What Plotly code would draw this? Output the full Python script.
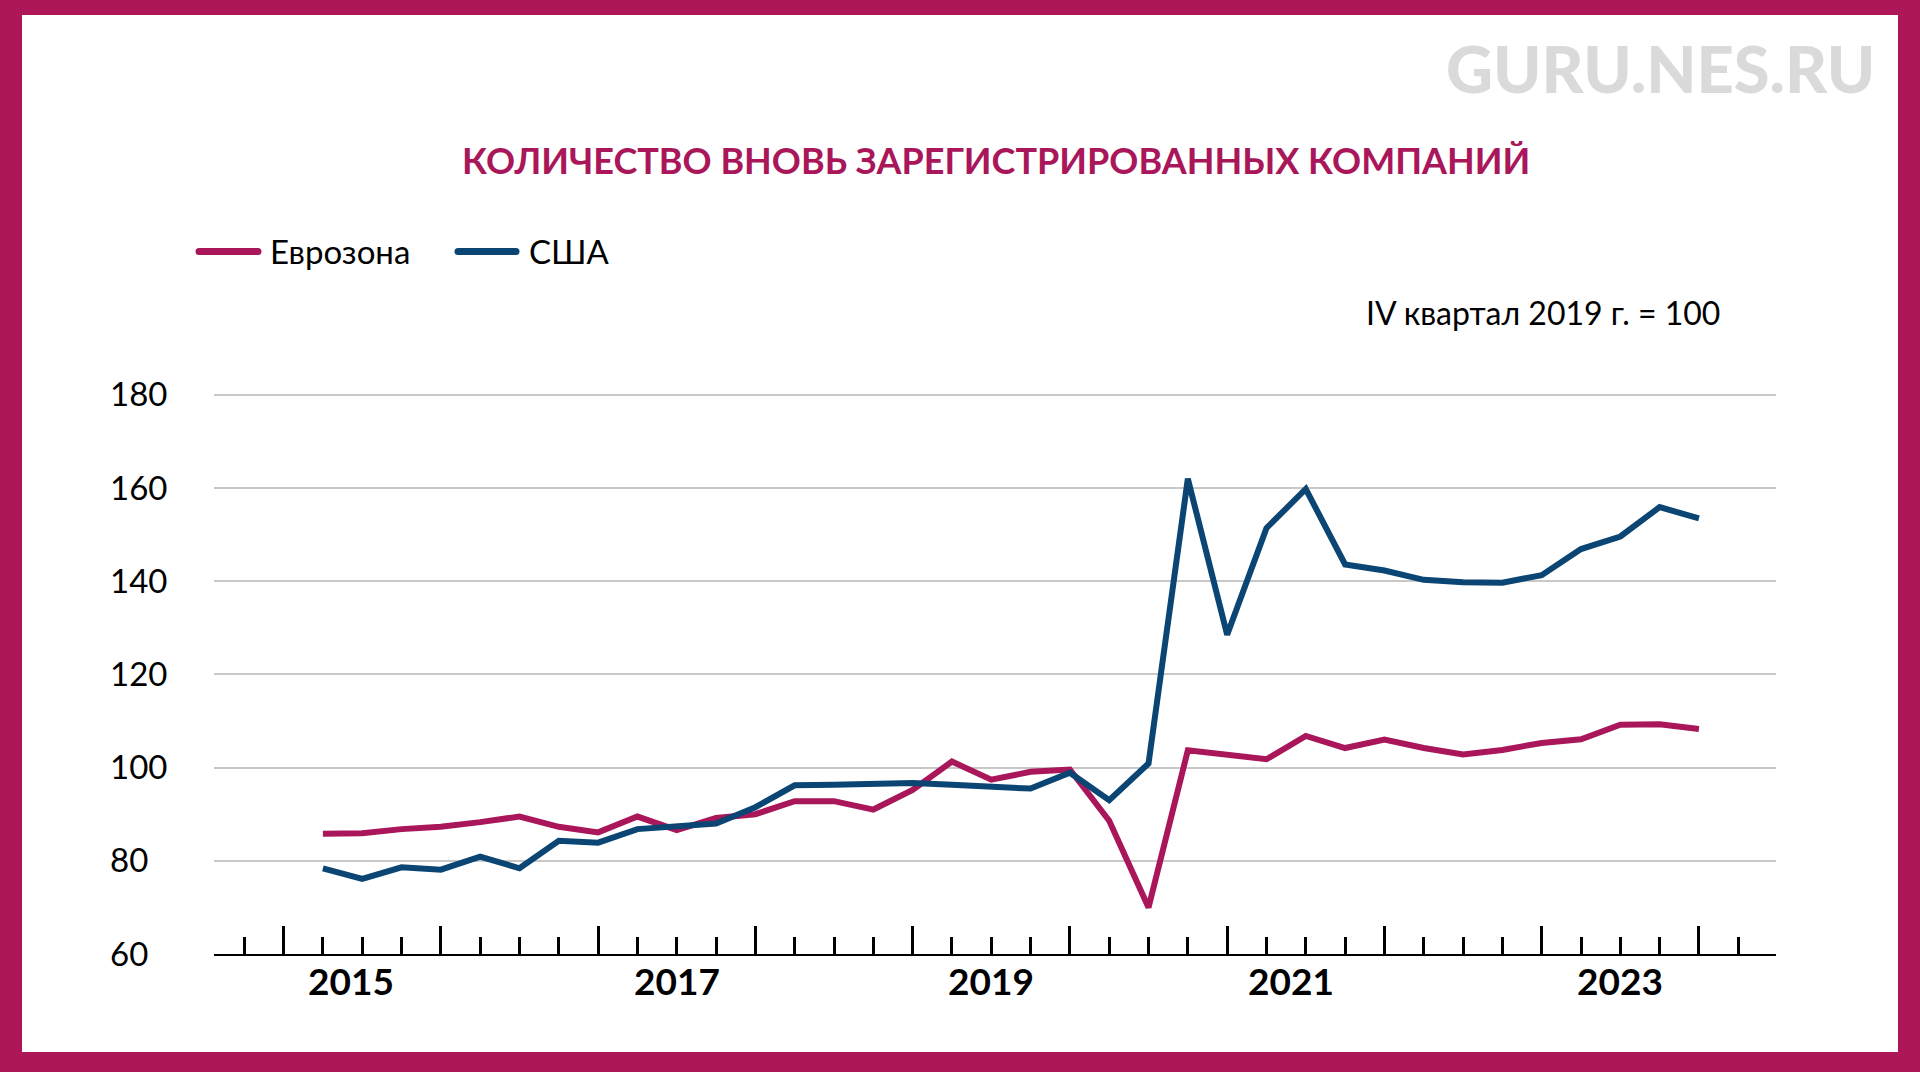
import plotly.graph_objects as go

# ---------------- data ----------------
quarters = [
    "2015 Q1", "2015 Q2", "2015 Q3", "2015 Q4",
    "2016 Q1", "2016 Q2", "2016 Q3", "2016 Q4",
    "2017 Q1", "2017 Q2", "2017 Q3", "2017 Q4",
    "2018 Q1", "2018 Q2", "2018 Q3", "2018 Q4",
    "2019 Q1", "2019 Q2", "2019 Q3", "2019 Q4",
    "2020 Q1", "2020 Q2", "2020 Q3", "2020 Q4",
    "2021 Q1", "2021 Q2", "2021 Q3", "2021 Q4",
    "2022 Q1", "2022 Q2", "2022 Q3", "2022 Q4",
    "2023 Q1", "2023 Q2", "2023 Q3", "2023 Q4",
]
eurozone = [
    85.8, 85.9, 86.8, 87.3, 88.3, 89.5, 87.3, 86.1,
    89.5, 86.6, 89.2, 90.0, 92.8, 92.8, 91.0, 95.2,
    101.3, 97.4, 99.1, 99.6, 88.6, 70.0, 103.7, 102.6,
    101.8, 106.8, 104.2, 106.0, 104.2, 102.8, 103.8, 105.3,
    106.1, 109.2, 109.3, 108.3,
]
usa = [
    78.4, 76.1, 78.6, 78.1, 80.9, 78.4, 84.3, 83.9,
    86.8, 87.5, 88.0, 91.5, 96.2, 96.3, 96.6, 96.7,
    96.3, 95.9, 95.5, 98.9, 93.0, 100.9, 162.0, 128.5,
    151.4, 159.8, 143.6, 142.3, 140.3, 139.8, 139.7, 141.3,
    146.9, 149.6, 155.9, 153.5,
]
series_names = ["Еврозона", "США"]
y_ticks = [60, 80, 100, 120, 140, 160, 180]
year_labels = [2015, 2017, 2019, 2021, 2023]
title_text = "КОЛИЧЕСТВО ВНОВЬ ЗАРЕГИСТРИРОВАННЫХ КОМПАНИЙ"
note_text = "IV квартал 2019 г. = 100"
watermark_text = "GURU.NES.RU"

# ---------------- styles ----------------
RED = "#A9165A"
BLUE = "#0A4574"
BORDER = "#AD1657"
GRID = "#C8C8C8"
FONT = "Lato"
LINE_W = 6
year_label_xshift = {2015: -11, 2021: -15}  # pixel nudges of the year captions

W, H = 1920, 1072
L, R, T, B = 214, 1776, 393, 954  # plot area in pixels
Y_RANGE = [60, 180.4]


def px(xp):
    return (xp - L) / (R - L)


def py(yp):
    return (B - yp) / (B - T)


def qpos(label):
    yr, q = label.split(" Q")
    return int(yr) + int(q) / 4.0  # end of quarter


x = [qpos(q) for q in quarters]

fig = go.Figure()
fig.add_trace(go.Scatter(x=x, y=eurozone, mode="lines", name=series_names[0],
                         line=dict(color=RED, width=LINE_W), showlegend=False))
fig.add_trace(go.Scatter(x=x, y=usa, mode="lines", name=series_names[1],
                         line=dict(color=BLUE, width=LINE_W), showlegend=False))

annotations = []
shapes = []

# y tick labels (left aligned)
for v in y_ticks:
    annotations.append(dict(x=px(108), xref="paper", y=v, yref="y", text=str(v),
                            showarrow=False, xanchor="left", yanchor="middle", yshift=1.5,
                            font=dict(family=FONT, size=33, color="black")))

# year labels
for yr in year_labels:
    annotations.append(dict(x=yr + 0.5, xref="x", y=py(980), yref="paper", text=f"<b>{yr}</b>",
                            showarrow=False, xanchor="center", yanchor="middle",
                            xshift=year_label_xshift.get(yr, 0),
                            font=dict(family=FONT, size=37, color="black")))

# title
annotations.append(dict(x=px(996), y=py(160), xref="paper", yref="paper", text=f"<b>{title_text}</b>",
                        showarrow=False, xanchor="center", yanchor="middle",
                        font=dict(family=FONT, size=36, color=RED)))
# watermark
annotations.append(dict(x=px(1877), y=py(68), xref="paper", yref="paper", text=watermark_text,
                        showarrow=False, xanchor="right", yanchor="middle",
                        font=dict(family=FONT, size=65, color="#DADADA", weight=900)))
# note
annotations.append(dict(x=px(1722), y=py(312), xref="paper", yref="paper", text=note_text,
                        showarrow=False, xanchor="right", yanchor="middle",
                        font=dict(family=FONT, size=32, color="black")))

# manual legend
legend_items = [(series_names[0], RED, 199, 258, 268), (series_names[1], BLUE, 458, 516, 527)]
for name, col, x0, x1, tx in legend_items:
    shapes.append(dict(type="line", xref="paper", yref="paper", x0=px(x0), x1=px(x1),
                       y0=py(251.5), y1=py(251.5), line=dict(color=col, width=7)))
    for cx in (x0, x1):
        shapes.append(dict(type="circle", xref="paper", yref="paper",
                           x0=px(cx - 3.5), x1=px(cx + 3.5), y0=py(255), y1=py(248),
                           fillcolor=col, line=dict(width=0)))
    annotations.append(dict(x=px(tx), y=py(251), xref="paper", yref="paper", text=name,
                            showarrow=False, xanchor="left", yanchor="middle",
                            font=dict(family=FONT, size=33, color="black")))

# frame
for (x0, y0, x1, y1) in [(0, 0, W, 15), (0, 0, 22, H), (1898, 0, W, H), (0, 1052, W, H)]:
    shapes.append(dict(type="rect", xref="paper", yref="paper", x0=px(x0), x1=px(x1),
                       y0=py(y0), y1=py(y1), fillcolor=BORDER, line=dict(width=0), layer="above"))

fig.update_layout(
    width=W, height=H,
    margin=dict(l=L, r=W - R, t=T, b=H - B, pad=0),
    paper_bgcolor="white", plot_bgcolor="white",
    font=dict(family=FONT, color="black"),
    showlegend=False,
    hovermode=False,
    annotations=annotations,
    shapes=shapes,
    xaxis=dict(range=[2014.5575, 2024.49], showgrid=False, zeroline=False,
               showline=True, linecolor="black", linewidth=2,
               ticks="inside", tick0=2014, dtick=1, ticklen=28, tickwidth=3, tickcolor="black",
               showticklabels=False,
               minor=dict(ticks="inside", tick0=2014, dtick=0.25, ticklen=17, tickwidth=3,
                          tickcolor="black", showgrid=False)),
    yaxis=dict(range=Y_RANGE, tickvals=y_ticks, showgrid=True, gridcolor=GRID, gridwidth=2,
               zeroline=False, showline=False, ticks="", showticklabels=False),
)

fig.write_html(
    "out.html",
    config={"displayModeBar": False},
    post_script="document.body.style.margin='0px';document.body.style.overflow='hidden';",
)
